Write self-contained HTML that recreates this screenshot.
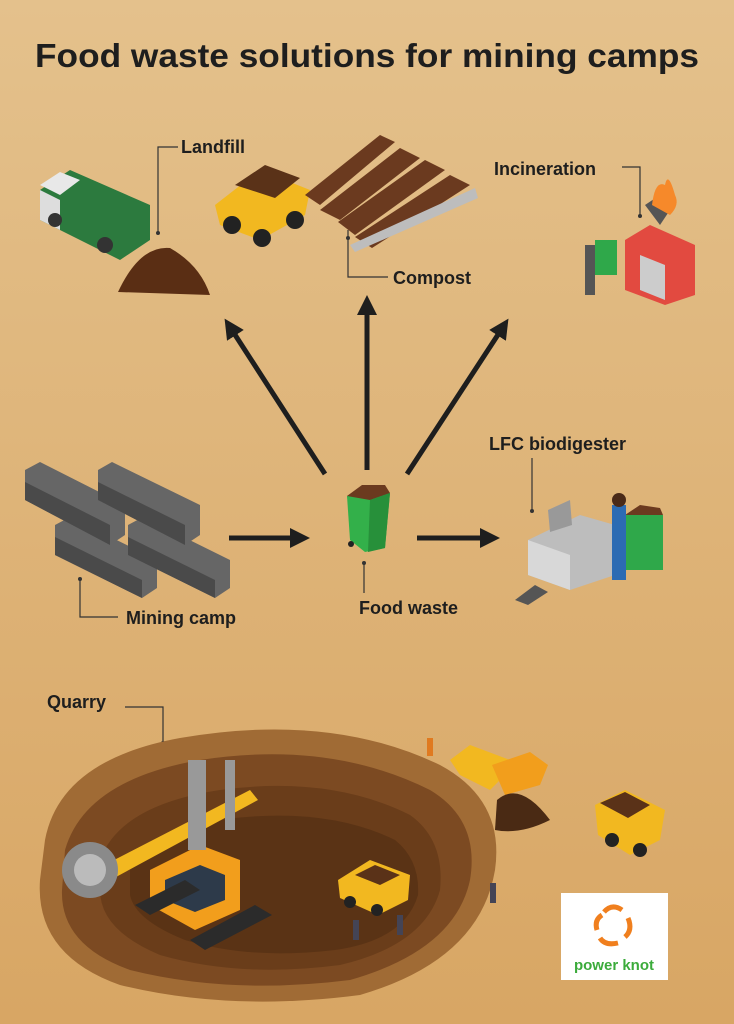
<!DOCTYPE html>
<html><head><meta charset="utf-8"><style>
html,body{margin:0;padding:0;width:734px;height:1024px;overflow:hidden}
svg{display:block}
text{font-family:"Liberation Sans",sans-serif;font-weight:bold;fill:#1e1e1e}
</style></head><body>
<svg width="734" height="1024" viewBox="0 0 734 1024" xmlns="http://www.w3.org/2000/svg">
<defs>
<linearGradient id="bg" x1="0" y1="0" x2="0" y2="1">
<stop offset="0" stop-color="#e4c18c"/><stop offset="1" stop-color="#d8a664"/></linearGradient>
<marker id="ah" markerWidth="4" markerHeight="4" refX="2" refY="2" orient="auto" markerUnits="strokeWidth">
<path d="M0,0 L4,2 L0,4 z" fill="#1e1e1e"/></marker>
</defs>
<rect width="734" height="1024" fill="url(#bg)"/>
<text x="367" y="67" font-size="33" text-anchor="middle" textLength="664" lengthAdjust="spacingAndGlyphs">Food waste solutions for mining camps</text>

<g stroke="#1e1e1e" stroke-width="5" marker-end="url(#ah)">
<line x1="325" y1="474" x2="230" y2="327"/>
<line x1="367" y1="470" x2="367" y2="305"/>
<line x1="407" y1="474" x2="503" y2="327"/>
<line x1="229" y1="538" x2="300" y2="538"/>
<line x1="417" y1="538" x2="490" y2="538"/>
</g>

<g stroke="#333" stroke-width="1.2" fill="none">
<polyline points="178,147 158,147 158,232"/>
<polyline points="348,230 348,277 388,277"/>
<polyline points="622,167 640,167 640,215"/>
<polyline points="532,458 532,510"/>
<polyline points="80,580 80,617 118,617"/>
<polyline points="364,563 364,593"/>
<polyline points="125,707 163,707 163,742"/>
</g>
<g fill="#333"><circle cx="158" cy="233" r="2"/><circle cx="348" cy="238" r="2"/><circle cx="640" cy="216" r="2"/><circle cx="532" cy="511" r="2"/><circle cx="80" cy="579" r="2"/><circle cx="364" cy="563" r="2"/><circle cx="163" cy="743" r="2"/></g>

<text x="181" y="153" font-size="18">Landfill</text>
<text x="393" y="284" font-size="18">Compost</text>
<text x="494" y="175" font-size="18">Incineration</text>
<text x="489" y="450" font-size="18">LFC biodigester</text>
<text x="126" y="624" font-size="18">Mining camp</text>
<text x="359" y="614" font-size="18">Food waste</text>
<text x="47" y="708" font-size="18">Quarry</text>

<polygon points="40,190 70,170 150,205 150,240 120,260 40,220" fill="#2c7a3e"/>
<polygon points="40,185 60,172 80,180 60,195" fill="#e8e8e8"/>
<polygon points="40,190 60,200 60,230 40,220" fill="#ddd"/>
<circle cx="55" cy="220" r="7" fill="#333"/><circle cx="105" cy="245" r="8" fill="#333"/>
<path d="M118,292 Q140,245 170,248 Q200,265 210,295 Z" fill="#5a2e14"/>

<polygon points="215,205 260,170 310,190 305,215 260,240 220,225" fill="#f2b820"/>
<polygon points="235,185 265,165 300,178 275,198" fill="#5a3218"/>
<circle cx="232" cy="225" r="9" fill="#222"/><circle cx="262" cy="238" r="9" fill="#222"/><circle cx="295" cy="220" r="9" fill="#222"/>
<g fill="#6b3a1f">
<polygon points="305,195 380,135 395,142 320,205"/>
<polygon points="320,210 400,148 420,158 340,220"/>
<polygon points="338,222 425,160 445,170 355,235"/>
<polygon points="355,237 450,175 470,185 372,248"/>
</g>
<polygon points="350,245 475,188 478,198 355,252" fill="#bdbdbd"/>

<polygon points="625,240 650,225 695,245 695,295 665,305 625,290" fill="#e24a40"/>
<polygon points="640,255 665,265 665,300 640,290" fill="#ccc"/>
<polygon points="645,205 660,195 670,210 660,225" fill="#555"/>
<path d="M652,205 Q655,180 665,185 Q668,170 675,195 Q680,205 670,215 Z" fill="#f6892a"/>
<rect x="595" y="240" width="22" height="35" fill="#2fa84a"/>
<rect x="585" y="245" width="10" height="50" fill="#555"/>

<g fill="#666">
<polygon points="25,470 40,462 125,505 125,535 110,545 25,500"/>
<polygon points="98,470 112,462 200,505 200,535 185,545 98,500"/>
<polygon points="55,525 70,517 157,560 157,588 142,598 55,555"/>
<polygon points="128,525 143,517 230,560 230,588 215,598 128,555"/>
</g>
<g fill="#4a4a4a">
<polygon points="25,482 110,525 110,545 25,500"/>
<polygon points="98,482 185,525 185,545 98,500"/>
<polygon points="55,537 142,580 142,598 55,555"/>
<polygon points="128,537 215,580 215,598 128,555"/>
</g>

<polygon points="347,496 372,487 390,493 385,548 365,552 350,540" fill="#33b04a"/>
<polygon points="347,496 362,485 385,485 390,493 370,500" fill="#6b3a1f"/>
<polygon points="370,500 390,493 385,548 368,552" fill="#27903a"/>
<circle cx="351" cy="544" r="3" fill="#222"/>

<polygon points="528,540 580,515 615,525 615,575 570,590 528,575" fill="#bdbdbd"/>
<polygon points="548,510 570,500 572,525 550,532" fill="#999"/>
<polygon points="528,540 570,555 570,590 528,575" fill="#d8d8d8"/>
<rect x="625" y="515" width="38" height="55" fill="#2fa84a"/>
<polygon points="625,515 640,505 660,508 663,515" fill="#6b3a1f"/>
<rect x="612" y="505" width="14" height="75" fill="#2c6bb3"/>
<circle cx="619" cy="500" r="7" fill="#4a2a18"/>
<polygon points="515,600 535,585 548,592 528,605" fill="#555"/>

<path d="M45,840 Q60,760 180,738 Q330,712 440,765 Q505,800 495,870 Q480,960 360,995 Q230,1012 120,985 Q35,955 40,880 Z" fill="#a06b35"/>
<path d="M65,850 Q85,780 200,760 Q330,740 430,790 Q480,820 470,880 Q455,950 350,980 Q230,995 130,970 Q60,945 62,890 Z" fill="#7c4a22"/>
<path d="M100,860 Q120,805 220,790 Q330,775 410,815 Q445,840 440,890 Q425,945 340,965 Q240,978 160,955 Q100,930 100,890 Z" fill="#6a3d1a"/>
<path d="M130,870 Q150,830 235,818 Q330,808 395,840 Q420,860 418,895 Q405,940 335,950 Q250,960 185,940 Q135,920 130,895 Z" fill="#5a3315"/>
<polygon points="150,870 200,845 240,860 240,910 195,930 150,905" fill="#f29e1c"/>
<polygon points="165,880 200,865 225,875 225,900 195,912 165,900" fill="#2d3a4a"/>
<polygon points="85,875 250,790 258,800 92,890" fill="#f2b820"/>
<rect x="188" y="760" width="18" height="90" fill="#999"/>
<rect x="225" y="760" width="10" height="70" fill="#999"/>
<circle cx="90" cy="870" r="28" fill="#8a8a8a"/><circle cx="90" cy="870" r="16" fill="#bbb"/>
<polygon points="135,905 185,880 200,890 150,915" fill="#2b2b2b"/>
<polygon points="190,940 255,905 272,915 205,950" fill="#2b2b2b"/>
<polygon points="338,880 370,860 410,875 408,900 378,915 340,898" fill="#f2b820"/>
<polygon points="355,875 375,865 400,875 380,885" fill="#5a3218"/>
<circle cx="350" cy="902" r="6" fill="#222"/><circle cx="377" cy="910" r="6" fill="#222"/>
<polygon points="450,760 470,745 510,760 505,775 490,790 460,775" fill="#f2b820"/>
<polygon points="492,765 530,752 548,765 540,785 505,795" fill="#f29e1c"/>
<path d="M497,800 Q520,780 550,820 Q520,835 495,830 Z" fill="#4a2a14"/>
<polygon points="595,805 625,790 665,810 660,840 630,855 598,835" fill="#f2b820"/>
<polygon points="600,803 625,792 650,805 628,818" fill="#5a3218"/>
<circle cx="612" cy="840" r="7" fill="#222"/><circle cx="640" cy="850" r="7" fill="#222"/>
<rect x="427" y="738" width="6" height="18" fill="#e07a20"/><rect x="490" y="883" width="6" height="20" fill="#445"/>
<rect x="353" y="920" width="6" height="20" fill="#445"/><rect x="397" y="915" width="6" height="20" fill="#445"/>

<rect x="561" y="893" width="107" height="87" fill="#fff"/>
<g fill="none" stroke="#f07f1e" stroke-width="5">
<path d="M604,912 Q612,903 622,910"/><path d="M628,918 Q633,930 625,937"/>
<path d="M618,943 Q605,946 600,938"/><path d="M597,930 Q594,920 602,915"/>
</g>
<text x="614" y="970" font-size="15" text-anchor="middle" style="fill:#3bab3b">power knot</text>
</svg>
</body></html>
